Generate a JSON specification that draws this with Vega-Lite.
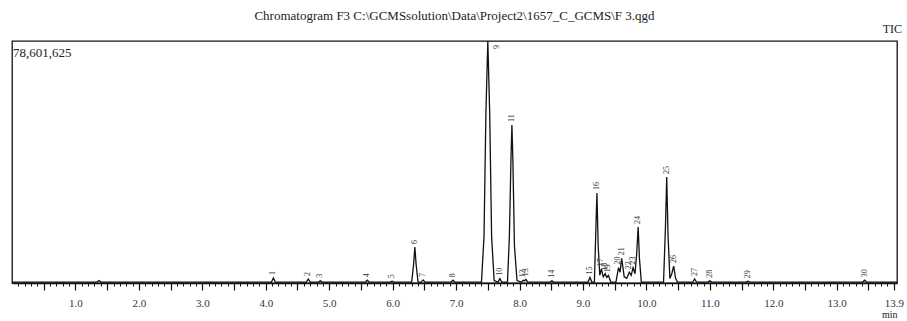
{
  "$schema": "https://vega.github.io/schema/vega-lite/v6.json",
  "width": 885,
  "height": 242,
  "autosize": {"type": "none"},
  "padding": {"left": 12, "top": 41, "right": 10, "bottom": 38},
  "background": "white",
  "config": {
    "view": {"stroke": "#111", "strokeWidth": 1.3},
    "font": "Liberation Serif"
  },
  "title": {
    "text": "Chromatogram F3 C:\\GCMSsolution\\Data\\Project2\\1657_C_GCMS\\F 3.qgd",
    "font": "Liberation Serif",
    "fontSize": 13,
    "fontWeight": "normal",
    "color": "#222",
    "offset": 0,
    "anchor": "middle"
  },
  "resolve": {"axis": {"x": "independent"}},
  "datasets": {
    "chrom": [
      {"t": 0.0, "v": 300000}, {"t": 1.34, "v": 300000}, {"t": 1.37, "v": 800000}, {"t": 1.40, "v": 300000},
      {"t": 4.09, "v": 300000}, {"t": 4.12, "v": 1600000}, {"t": 4.15, "v": 300000},
      {"t": 4.64, "v": 300000}, {"t": 4.67, "v": 1300000}, {"t": 4.70, "v": 300000},
      {"t": 4.83, "v": 300000}, {"t": 4.86, "v": 700000}, {"t": 4.89, "v": 300000},
      {"t": 5.57, "v": 300000}, {"t": 5.60, "v": 900000}, {"t": 5.63, "v": 300000},
      {"t": 5.96, "v": 300000}, {"t": 5.99, "v": 600000}, {"t": 6.02, "v": 300000},
      {"t": 6.30, "v": 300000}, {"t": 6.33, "v": 6000000}, {"t": 6.35, "v": 11700000}, {"t": 6.37, "v": 6000000}, {"t": 6.40, "v": 300000},
      {"t": 6.45, "v": 300000}, {"t": 6.48, "v": 1000000}, {"t": 6.51, "v": 300000},
      {"t": 6.92, "v": 300000}, {"t": 6.95, "v": 900000}, {"t": 6.98, "v": 300000},
      {"t": 7.40, "v": 300000}, {"t": 7.44, "v": 15000000}, {"t": 7.47, "v": 55000000}, {"t": 7.50, "v": 85000000}, {"t": 7.53, "v": 55000000}, {"t": 7.56, "v": 15000000}, {"t": 7.60, "v": 800000},
      {"t": 7.66, "v": 300000}, {"t": 7.69, "v": 1400000}, {"t": 7.72, "v": 300000},
      {"t": 7.81, "v": 300000}, {"t": 7.84, "v": 15000000}, {"t": 7.865, "v": 40000000}, {"t": 7.88, "v": 51300000}, {"t": 7.895, "v": 40000000}, {"t": 7.92, "v": 12000000}, {"t": 7.96, "v": 800000},
      {"t": 8.03, "v": 300000}, {"t": 8.06, "v": 900000}, {"t": 8.08, "v": 700000}, {"t": 8.10, "v": 1200000}, {"t": 8.13, "v": 300000},
      {"t": 8.48, "v": 300000}, {"t": 8.51, "v": 700000}, {"t": 8.54, "v": 300000},
      {"t": 9.08, "v": 300000}, {"t": 9.11, "v": 1800000}, {"t": 9.14, "v": 300000},
      {"t": 9.18, "v": 300000}, {"t": 9.20, "v": 15000000}, {"t": 9.22, "v": 29200000}, {"t": 9.24, "v": 12000000}, {"t": 9.265, "v": 2500000},
      {"t": 9.29, "v": 4500000}, {"t": 9.32, "v": 2000000}, {"t": 9.35, "v": 3000000}, {"t": 9.375, "v": 1800000}, {"t": 9.40, "v": 2500000}, {"t": 9.44, "v": 300000},
      {"t": 9.52, "v": 300000}, {"t": 9.56, "v": 5000000}, {"t": 9.585, "v": 3500000}, {"t": 9.61, "v": 8000000}, {"t": 9.65, "v": 2000000}, {"t": 9.69, "v": 1500000},
      {"t": 9.73, "v": 3500000}, {"t": 9.76, "v": 2500000}, {"t": 9.79, "v": 5000000}, {"t": 9.82, "v": 3000000}, {"t": 9.845, "v": 9000000}, {"t": 9.87, "v": 18200000}, {"t": 9.89, "v": 8000000}, {"t": 9.92, "v": 300000},
      {"t": 10.27, "v": 300000}, {"t": 10.30, "v": 18000000}, {"t": 10.32, "v": 34400000}, {"t": 10.34, "v": 16000000}, {"t": 10.37, "v": 1500000},
      {"t": 10.40, "v": 3000000}, {"t": 10.43, "v": 5500000}, {"t": 10.46, "v": 1500000}, {"t": 10.49, "v": 300000},
      {"t": 10.73, "v": 300000}, {"t": 10.76, "v": 1300000}, {"t": 10.79, "v": 300000},
      {"t": 10.97, "v": 300000}, {"t": 11.00, "v": 700000}, {"t": 11.03, "v": 300000},
      {"t": 11.57, "v": 300000}, {"t": 11.60, "v": 600000}, {"t": 11.63, "v": 300000},
      {"t": 13.41, "v": 300000}, {"t": 13.44, "v": 900000}, {"t": 13.47, "v": 300000},
      {"t": 13.95, "v": 300000}
    ],
    "peaks": [
      {"peak": "1", "t": 4.12, "v": 1600000},
      {"peak": "2", "t": 4.67, "v": 1300000},
      {"peak": "3", "t": 4.86, "v": 700000},
      {"peak": "4", "t": 5.60, "v": 900000},
      {"peak": "5", "t": 5.99, "v": 600000},
      {"peak": "6", "t": 6.35, "v": 11700000},
      {"peak": "7", "t": 6.48, "v": 1000000},
      {"peak": "8", "t": 6.95, "v": 900000},
      {"peak": "9", "t": 7.64, "v": 75000000},
      {"peak": "10", "t": 7.69, "v": 1400000},
      {"peak": "11", "t": 7.88, "v": 51300000},
      {"peak": "12", "t": 8.06, "v": 900000},
      {"peak": "13", "t": 8.10, "v": 1200000},
      {"peak": "14", "t": 8.51, "v": 700000},
      {"peak": "15", "t": 9.11, "v": 1800000},
      {"peak": "16", "t": 9.22, "v": 29200000},
      {"peak": "17", "t": 9.29, "v": 4500000},
      {"peak": "18", "t": 9.35, "v": 3000000},
      {"peak": "19", "t": 9.40, "v": 2500000},
      {"peak": "20", "t": 9.56, "v": 5000000},
      {"peak": "21", "t": 9.61, "v": 8000000},
      {"peak": "22", "t": 9.73, "v": 3500000},
      {"peak": "23", "t": 9.79, "v": 5000000},
      {"peak": "24", "t": 9.87, "v": 18200000},
      {"peak": "25", "t": 10.32, "v": 34400000},
      {"peak": "26", "t": 10.43, "v": 5500000},
      {"peak": "27", "t": 10.76, "v": 1300000},
      {"peak": "28", "t": 11.00, "v": 700000},
      {"peak": "29", "t": 11.60, "v": 600000},
      {"peak": "30", "t": 13.44, "v": 900000}
    ]
  },
  "layer": [
    {
      "data": {"name": "chrom"},
      "mark": {"type": "line", "color": "#111", "strokeWidth": 1.3, "clip": true},
      "encoding": {
        "x": {
          "field": "t", "type": "quantitative",
          "scale": {"domain": [0, 13.95], "nice": false, "zero": false},
          "axis": {
            "orient": "bottom",
            "values": [0.5,1,1.5,2,2.5,3,3.5,4,4.5,5,5.5,6,6.5,7,7.5,8,8.5,9,9.5,10,10.5,11,11.5,12,12.5,13,13.5,13.9],
            "labelExpr": "(datum.value % 1 == 0 || datum.value > 13.85) ? format(datum.value, '.1f') : ''",
            "labelOverlap": false,
            "labelFlush": false,
            "labelFont": "Liberation Serif",
            "labelFontSize": 11,
            "labelColor": "#334",
            "labelPadding": 7,
            "tickColor": "#111",
            "tickWidth": 1.2,
            "tickSize": 7,
            "domainColor": "#111",
            "domainWidth": 1.3,
            "grid": false,
            "title": "min",
            "titleFont": "Liberation Serif",
            "titleFontSize": 10,
            "titleFontWeight": "normal",
            "titleColor": "#222",
            "titleAnchor": "end",
            "titleAlign": "right",
            "titlePadding": 1
          }
        },
        "y": {
          "field": "v", "type": "quantitative",
          "scale": {"domain": [0, 78601625], "nice": false, "zero": true, "clamp": true},
          "axis": null
        }
      }
    },
    {
      "data": {"name": "peaks"},
      "mark": {"type": "text", "angle": 270, "align": "left", "baseline": "middle", "dx": 3, "fontSize": 8, "font": "Liberation Serif", "color": "#333"},
      "encoding": {
        "x": {
          "field": "t", "type": "quantitative",
          "axis": {
            "orient": "bottom",
            "values": [0.1,0.2,0.3,0.4,0.6,0.7,0.8,0.9,1.1,1.2,1.3,1.4,1.6,1.7,1.8,1.9,2.1,2.2,2.3,2.4,2.6,2.7,2.8,2.9,3.1,3.2,3.3,3.4,3.6,3.7,3.8,3.9,4.1,4.2,4.3,4.4,4.6,4.7,4.8,4.9,5.1,5.2,5.3,5.4,5.6,5.7,5.8,5.9,6.1,6.2,6.3,6.4,6.6,6.7,6.8,6.9,7.1,7.2,7.3,7.4,7.6,7.7,7.8,7.9,8.1,8.2,8.3,8.4,8.6,8.7,8.8,8.9,9.1,9.2,9.3,9.4,9.6,9.7,9.8,9.9,10.1,10.2,10.3,10.4,10.6,10.7,10.8,10.9,11.1,11.2,11.3,11.4,11.6,11.7,11.8,11.9,12.1,12.2,12.3,12.4,12.6,12.7,12.8,12.9,13.1,13.2,13.3,13.4,13.6,13.7,13.8],
            "labels": false,
            "domain": false,
            "title": null,
            "grid": false,
            "tickColor": "#111",
            "tickWidth": 1,
            "tickSize": 3
          }
        },
        "y": {"field": "v", "type": "quantitative"},
        "text": {"field": "peak"}
      }
    },
    {
      "data": {"values": [{}]},
      "mark": {"type": "text", "align": "right", "baseline": "bottom", "dx": 5, "dy": -5, "fontSize": 12, "font": "Liberation Serif", "color": "#222"},
      "encoding": {
        "x": {"datum": 13.95, "type": "quantitative", "axis": null},
        "y": {"datum": 78601625, "type": "quantitative"},
        "text": {"value": "TIC"}
      }
    },
    {
      "data": {"values": [{}]},
      "mark": {"type": "text", "align": "left", "baseline": "top", "dx": 1, "dy": 6, "fontSize": 13, "font": "Liberation Serif", "color": "#222"},
      "encoding": {
        "x": {"datum": 0, "type": "quantitative", "axis": null},
        "y": {"datum": 78601625, "type": "quantitative"},
        "text": {"value": "78,601,625"}
      }
    }
  ]
}
